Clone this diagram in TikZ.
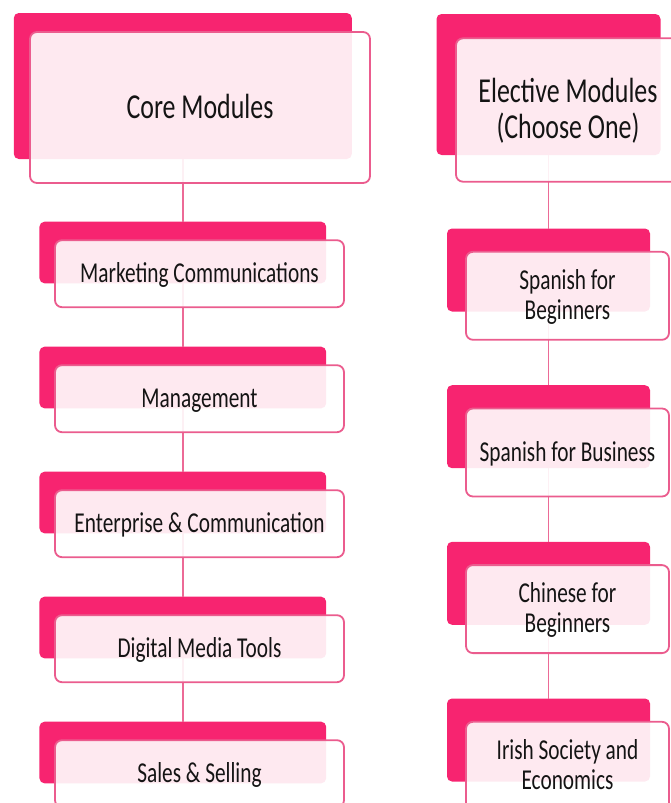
\documentclass[tikz,border=0pt]{standalone}
\usepackage{fontspec}
\usepackage{graphicx}
\setmainfont{Carlito}
\definecolor{bk}{HTML}{F72470}
\definecolor{bd}{HTML}{EB5C8E}
\definecolor{ln}{HTML}{EC6A96}
\definecolor{tx}{HTML}{141414}
\pgfdeclarelayer{bg}
\pgfdeclarelayer{mid}
\pgfsetlayers{bg,mid,main}
\newcommand\hdtext[1]{\raisebox{-3.5pt}[\height][\depth]{\scalebox{0.74}[1]{\fontsize{35}{36}\selectfont\begin{tabular}{@{}c@{}}#1\end{tabular}}}}
\newcommand\ittext[1]{\raisebox{-2.5pt}[\height][\depth]{\scalebox{0.74}[1]{\fontsize{28.8}{30}\selectfont\begin{tabular}{@{}c@{}}#1\end{tabular}}}}
\begin{document}
\begin{tikzpicture}[x=1pt,y=-1pt,
  backbox/.style={fill=bk, rounded corners=5pt, inner sep=0pt, outer sep=0pt, draw=none},
  frontbox/.style={draw=bd, line width=1.8pt, fill=white, fill opacity=0.9, text opacity=1,
                   rounded corners=7pt, inner sep=0pt, outer sep=0pt, text=tx},
  lback/.style={backbox, minimum width=286.7pt, minimum height=61.6pt},
  lfront/.style={frontbox, minimum width=289pt, minimum height=67pt},
  rback/.style={backbox, minimum width=203pt, minimum height=83pt},
  rfront/.style={frontbox, minimum width=203pt, minimum height=88pt},
  conn/.style={draw=ln, line width=1.8pt}]
\useasboundingbox (0,0) rectangle (670,803);

\begin{pgfonlayer}{bg}
  % left column back boxes
  \node[backbox, minimum width=338pt, minimum height=146pt] (cb) at (182.8,86) {};
  \node[lback] (m1b) at (182.8,252.5) {};
  \node[lback] (m2b) at (182.8,377.5) {};
  \node[lback] (m3b) at (182.8,502.5) {};
  \node[lback] (m4b) at (182.8,627.5) {};
  \node[lback] (m5b) at (182.8,752.5) {};
  % right column back boxes
  \node[backbox, minimum width=224pt, minimum height=141pt] (eb) at (548.5,84.5) {};
  \node[rback] (e1b) at (548.5,270) {};
  \node[rback] (e2b) at (548.5,426.7) {};
  \node[rback] (e3b) at (548.5,583.3) {};
  \node[rback] (e4b) at (548.5,740) {};
\end{pgfonlayer}

\begin{pgfonlayer}{mid}
  \draw[conn] (cb.south) -- (m1b.north);
  \draw[conn] (m1b.south) -- (m2b.north);
  \draw[conn] (m2b.south) -- (m3b.north);
  \draw[conn] (m3b.south) -- (m4b.north);
  \draw[conn] (m4b.south) -- (m5b.north);
  \draw[conn] (eb.south) -- (e1b.north);
  \draw[conn] (e1b.south) -- (e2b.north);
  \draw[conn] (e2b.south) -- (e3b.north);
  \draw[conn] (e3b.south) -- (e4b.north);
\end{pgfonlayer}

% front boxes
\node[frontbox, minimum width=340pt, minimum height=151pt] (cf) at (200,107.5) {\hdtext{Core Modules}};
\node[lfront] (m1) at (199.5,273.7) {\ittext{Marketing Communications}};
\node[lfront] (m2) at (199.5,398.7) {\ittext{Management}};
\node[lfront] (m3) at (199.5,523.7) {\ittext{Enterprise \& Communication}};
\node[lfront] (m4) at (199.5,648.7) {\ittext{Digital Media Tools}};
\node[lfront] (m5) at (199.5,773.7) {\ittext{Sales \& Selling}};

\node[frontbox, minimum width=224pt, minimum height=143.4pt] (ef) at (568,110) {\hdtext{Elective Modules\\(Choose One)}};
\node[rfront] (e1) at (567.5,295.8) {\ittext{Spanish for\\Beginners}};
\node[rfront] (e2) at (567.5,452.5) {\ittext{Spanish for Business}};
\node[rfront] (e3) at (567.5,609.1) {\ittext{Chinese for\\Beginners}};
\node[rfront] (e4) at (567.5,765.8) {\ittext{Irish Society and\\Economics}};
\end{tikzpicture}
\end{document}
